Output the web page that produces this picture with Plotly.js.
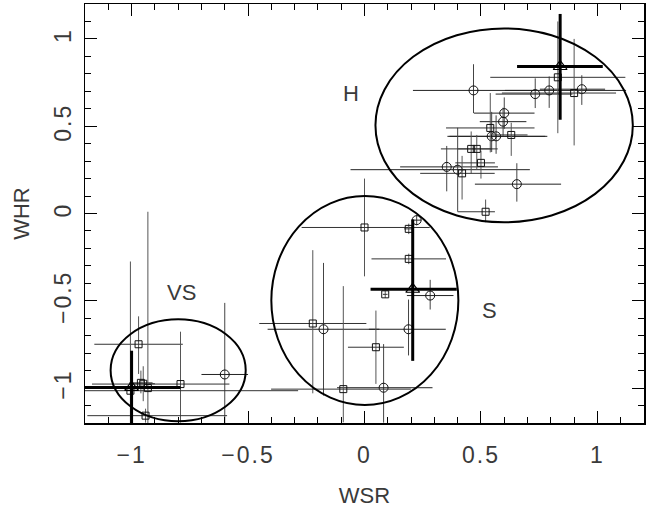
<!DOCTYPE html>
<html>
<head>
<meta charset="utf-8">
<script src="https://cdn.plot.ly/plotly-3.0.1.min.js"></script>
<style>
html,body{margin:0;padding:0;background:#fff;}
#chart{width:664px;height:508px;}
.xtick text, .ytick text { letter-spacing: 2px; }
</style>
</head>
<body>
<div id="chart"></div>
<script>
// ---- circles ----
const circX   = [0.468, 0.733, 0.793, 0.933, 0.600, 0.595, 0.546, 0.565, 0.353, 0.400, 0.654, 0.224, 0.282, -0.176, 0.189, 0.082, -0.600];
const circY   = [0.705, 0.684, 0.705, 0.712, 0.575, 0.526, 0.442, 0.442, 0.267, 0.251, 0.168, -0.038, -0.470, -0.663, -0.663, -0.998, -0.922];
const circXm  = [0.26, 0.17, 0.19, 0.18, 0.13, 0.10, 0.19, 0.20, 0.20, 0.46, 0.18, 0.02, 0.10, 0.24, 0.17, 0.20, 0.10];
const circXp  = [0.27, 0.16, 0.33, 0.10, 0.13, 0.10, 0.23, 0.22, 0.22, 0.31, 0.19, 0.02, 0.10, 0.24, 0.16, 0.21, 0.10];
const circYm  = [0.13, 0.08, 0.10, 0.09, 0.09, 0.08, 0.09, 0.10, 0.14, 0.24, 0.10, 0.03, 0.08, 0.38, 0.15, 0.20, 0.28];
const circYp  = [0.15, 0.09, 0.08, 0.08, 0.09, 0.08, 0.14, 0.12, 0.12, 0.24, 0.12, 0.03, 0.09, 0.38, 0.17, 0.25, 0.41];

// ---- squares ----
const sqX   = [0.830, 0.900, 0.540, 0.630, 0.458, 0.482, 0.500, 0.419, 0.520, 0.000, 0.190, 0.190, 0.089, -0.222, 0.049, -0.091, -0.970, -0.790, -0.960, -0.950, -0.930, -1.005, -0.940];
const sqY   = [0.780, 0.690, 0.490, 0.450, 0.370, 0.370, 0.290, 0.230, 0.010, -0.080, -0.088, -0.260, -0.463, -0.630, -0.766, -1.006, -0.749, -0.977, -0.970, -0.975, -1.000, -1.015, -1.158];
const sqXm  = [0.29, 0.31, 0.19, 0.08, 0.13, 0.08, 0.11, 0.18, 0.12, 0.27, 0.02, 0.16, 0.01, 0.23, 0.12, 0.31, 0.19, 0.38, 0.05, 0.05, 0.05, 0.20, 0.25];
const sqXp  = [0.29, 0.18, 0.19, 0.07, 0.09, 0.09, 0.06, 0.14, 0.04, 0.28, 0.02, 0.16, 0.01, 0.23, 0.12, 0.29, 0.19, 0.21, 0.05, 0.05, 0.05, 0.72, 0.35];
const sqYm  = [0.32, 0.30, 0.14, 0.12, 0.14, 0.12, 0.09, 0.15, 0.06, 0.28, 0.03, 0.03, 0.02, 0.40, 0.21, 0.19, 0.17, 0.22, 0.06, 0.10, 0.20, 0.19, 0.04];
const sqYp  = [0.32, 0.31, 0.20, 0.07, 0.10, 0.08, 0.07, 0.10, 0.07, 0.28, 0.03, 0.03, 0.02, 0.42, 0.21, 0.59, 0.16, 0.30, 0.07, 0.10, 1.01, 0.74, 0.04];

// ---- group means (triangles, thick bars) ----
const triX  = [0.840, 0.207, -1.000];
const triY  = [0.842, -0.434, -0.996];
const triXm = [0.185, 0.181, 0.20];
const triXp = [0.183, 0.189, 0.21];
const triYm = [0.305, 0.410, 0.21];
const triYp = [0.301, 0.400, 0.21];

// ---- group ellipses (x0, x1, y0, y1) ----
const ellX0 = [0.047, -0.400, -1.090];
const ellX1 = [1.152, 0.403, -0.510];
const ellY0 = [-0.050, -1.097, -1.190];
const ellY1 = [1.060, 0.100, -0.606];

// ---- group labels ----
const labText = ['H', 'S', 'VS'];
const labX    = [-0.060, 0.537, -0.785];
const labY    = [0.686, -0.558, -0.452];

const FONT = 'Liberation Sans, Arial, sans-serif';
const TXT = '#3a3a3a';

const traces = [
  {
    x: circX, y: circY, type: 'scatter', mode: 'markers',
    marker: {symbol: 'circle-open', size: 9, color: '#111', line: {width: 1, color: '#111'}},
    error_x: {type: 'data', symmetric: false, array: circXp, arrayminus: circXm, color: '#222', thickness: 1, width: 0},
    error_y: {type: 'data', symmetric: false, array: circYp, arrayminus: circYm, color: '#444', thickness: 1, width: 0},
    hoverinfo: 'skip'
  },
  {
    x: sqX, y: sqY, type: 'scatter', mode: 'markers',
    marker: {symbol: 'square-open', size: 7, color: '#111', line: {width: 1, color: '#111'}},
    error_x: {type: 'data', symmetric: false, array: sqXp, arrayminus: sqXm, color: '#333', thickness: 1, width: 0},
    error_y: {type: 'data', symmetric: false, array: sqYp, arrayminus: sqYm, color: '#555', thickness: 1, width: 0},
    hoverinfo: 'skip'
  },
  {
    x: triX, y: triY, type: 'scatter', mode: 'markers',
    marker: {symbol: 'triangle-up-open', size: 12, color: '#000', line: {width: 1.2, color: '#000'}},
    error_x: {type: 'data', symmetric: false, array: triXp, arrayminus: triXm, color: '#000', thickness: 3, width: 0},
    error_y: {type: 'data', symmetric: false, array: triYp, arrayminus: triYm, color: '#000', thickness: 3, width: 0},
    hoverinfo: 'skip'
  }
];

const shapes = ellX0.map((_, i) => ({
  type: 'circle', xref: 'x', yref: 'y',
  x0: ellX0[i], x1: ellX1[i], y0: ellY0[i], y1: ellY1[i],
  line: {color: '#000', width: 2}
}));

const annotations = labText.map((t, i) => ({
  x: labX[i], y: labY[i], xref: 'x', yref: 'y', text: t, showarrow: false,
  font: {family: FONT, size: 22, color: TXT}
}));

const axisCommon = {
  range: [-1.2, 1.2], dtick: 0.5, tick0: 0,
  ticks: 'inside', ticklen: 12, tickwidth: 1, tickcolor: '#000',
  minor: {dtick: 0.1, ticks: 'inside', ticklen: 6, tickwidth: 1, tickcolor: '#000'},
  showline: true, linecolor: '#000', linewidth: 1.5, mirror: 'allticks',
  showgrid: false, zeroline: false,
  tickfont: {family: FONT, size: 23, color: TXT}
};

const layout = {
  width: 664, height: 508,
  margin: {l: 85, r: 20, t: 4, b: 85},
  paper_bgcolor: '#fff', plot_bgcolor: '#fff',
  showlegend: false,
  xaxis: Object.assign({}, axisCommon, {
    ticklabelstandoff: 11,
    title: {text: 'WSR', font: {family: FONT, size: 22, color: TXT}, standoff: 24}
  }),
  yaxis: Object.assign({}, axisCommon, {
    tickangle: -90,
    ticklabelstandoff: 3,
    title: {text: 'WHR', font: {family: FONT, size: 22, color: TXT}, standoff: 14}
  }),
  shapes: shapes,
  annotations: annotations
};

Plotly.newPlot('chart', traces, layout, {displayModeBar: false, staticPlot: true});
</script>
</body>
</html>
